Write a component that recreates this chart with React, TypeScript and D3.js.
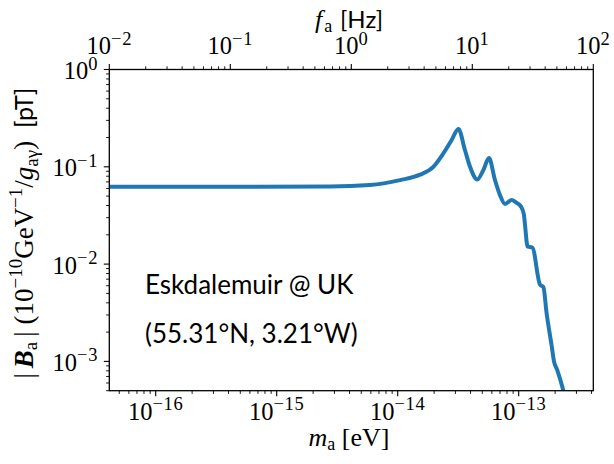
import React from "react";
import * as d3 from "d3";

// Axion-induced magnetic field spectrum at the Eskdalemuir station
const massEV = [
  4.136e-17, 6.0e-16, 2.76e-15, 5.9e-15, 1.045e-14, 1.53e-14, 1.97e-14, 2.38e-14,
  2.8e-14, 3.17e-14, 3.6e-14, 3.96e-14, 4.55e-14, 5.1e-14, 5.68e-14, 6.37e-14,
  7.01e-14, 7.7e-14, 8.75e-14, 9.5e-14, 1.045e-13, 1.1e-13, 1.187e-13, 1.296e-13,
  1.5e-13, 1.6e-13, 1.7e-13, 1.875e-13, 1.957e-13, 2.08e-13, 2.34e-13, 2.5e-13,
];
const fieldPT = [
  0.0625, 0.0625, 0.0628, 0.065, 0.073, 0.083, 0.1, 0.137,
  0.19, 0.245, 0.148, 0.1, 0.074, 0.0925, 0.123, 0.073,
  0.051, 0.0415, 0.0456, 0.043, 0.039, 0.033, 0.0151, 0.0148,
  0.00614, 0.0058, 0.00314, 0.00143, 0.001, 0.00082, 0.0005, 0.00035,
];

const massTickExps = [-16, -15, -14, -13];
const freqTickExps = [-2, -1, 0, 1, 2];
const fieldTickExps = [-3, -2, -1, 0];

const stationName = "Eskdalemuir @ UK";
const stationCoords = "(55.31°N, 3.21°W)";

const W = 614;
const H = 464;
const left = 109.3;
const right = 593.3;
const top = 69.5;
const bottom = 390.7;

const SERIF = "'Liberation Serif', 'Times New Roman', serif";
const SANS = "Lato, 'DejaVu Sans', sans-serif";
const BLUE = "#1f77b4";

function minorTicks(lo: number, hi: number): number[] {
  const out: number[] = [];
  for (let e = Math.floor(Math.log10(lo)) - 1; e <= Math.ceil(Math.log10(hi)); e++) {
    for (let k = 2; k <= 9; k++) {
      const v = k * Math.pow(10, e);
      if (v >= lo * 0.9999 && v <= hi * 1.0001) out.push(v);
    }
  }
  return out;
}

function Pow10({ e, x, y, anchor }: { e: number; x: number; y: number; anchor: string }) {
  const s = e < 0 ? "\u2212" + Math.abs(e) : String(e);
  return (
    <text x={x} y={y} textAnchor={anchor} fontFamily={SERIF} fontSize={24.5} fill="#000">
      10
      <tspan fontSize={18.5} dy={-9.5} letterSpacing={0.6}>{s}</tspan>
    </text>
  );
}

export default function App() {
  const x = d3.scaleLog().domain([4.1357e-17, 4.1357e-13]).range([left, right]);
  const xTop = d3.scaleLog().domain([1e-2, 1e2]).range([left, right]);
  const y = d3.scaleLog().domain([5e-4, 1]).range([bottom, top]);

  const pts: [number, number][] = massEV.map((m, i) => [x(m), y(fieldPT[i])]);
  const line = d3.line().curve(d3.curveMonotoneX)(pts) || "";

  const majorLen = 5.5;
  const minorLen = 3.2;

  const xMinor = minorTicks(4.1357e-17, 4.1357e-13);
  const xTopMinor = minorTicks(1e-2, 1e2);
  const yMinor = minorTicks(5e-4, 1);

  return (
    <svg
      width={W}
      height={H}
      style={{ position: "absolute", left: 0, top: 0, background: "#fff" }}
    >
      <defs>
        <clipPath id="plotArea">
          <rect x={left} y={top} width={right - left} height={bottom - top} />
        </clipPath>
      </defs>
      <rect x={0} y={0} width={W} height={H} fill="#fff" />

      <path
        d={line}
        fill="none"
        stroke={BLUE}
        strokeWidth={4}
        strokeLinejoin="round"
        strokeLinecap="round"
        clipPath="url(#plotArea)"
      />

      {/* frame */}
      <rect
        x={left}
        y={top}
        width={right - left}
        height={bottom - top}
        fill="none"
        stroke="#000"
        strokeWidth={1.3}
      />

      {/* bottom axis: axion mass */}
      <g stroke="#000">
        {massTickExps.map((e) => {
          const px = x(Math.pow(10, e));
          return <line key={"bx" + e} x1={px} x2={px} y1={bottom} y2={bottom + majorLen} strokeWidth={1.1} />;
        })}
        {xMinor.map((v, i) => {
          const px = x(v);
          return <line key={"bm" + i} x1={px} x2={px} y1={bottom} y2={bottom + minorLen} strokeWidth={0.9} />;
        })}
      </g>
      {massTickExps.map((e) => (
        <Pow10 key={"bl" + e} e={e} x={x(Math.pow(10, e))} y={bottom + 29} anchor="middle" />
      ))}

      {/* top axis: frequency */}
      <g stroke="#000">
        {freqTickExps.map((e) => {
          const px = xTop(Math.pow(10, e));
          return <line key={"tx" + e} x1={px} x2={px} y1={top} y2={top - majorLen} strokeWidth={1.1} />;
        })}
        {xTopMinor.map((v, i) => {
          const px = xTop(v);
          return <line key={"tm" + i} x1={px} x2={px} y1={top} y2={top - minorLen} strokeWidth={0.9} />;
        })}
      </g>
      {freqTickExps.map((e) => (
        <Pow10 key={"tl" + e} e={e} x={xTop(Math.pow(10, e))} y={top - 15.5} anchor="middle" />
      ))}

      {/* left axis: field amplitude */}
      <g stroke="#000">
        {fieldTickExps.map((e) => {
          const py = y(Math.pow(10, e));
          return <line key={"ly" + e} x1={left} x2={left - majorLen} y1={py} y2={py} strokeWidth={1.1} />;
        })}
        {yMinor.map((v, i) => {
          const py = y(v);
          return <line key={"lm" + i} x1={left} x2={left - minorLen} y1={py} y2={py} strokeWidth={0.9} />;
        })}
      </g>
      {fieldTickExps.map((e) => (
        <Pow10 key={"ll" + e} e={e} x={98} y={y(Math.pow(10, e)) + 9.5} anchor="end" />
      ))}

      {/* axis titles */}
      <text x={349} y={445.5} textAnchor="middle" fontFamily={SERIF} fontSize={26}>
        <tspan fontStyle="italic">m</tspan>
        <tspan fontSize={18} dy={4}>a</tspan>
        <tspan dy={-4}>{"\u00a0[eV]"}</tspan>
      </text>

      <text x={315} y={28} fontFamily={SERIF} fontSize={26}>
        <tspan fontStyle="italic">f</tspan>
        <tspan fontSize={18} dy={4} dx={2}>a</tspan>
      </text>
      <text x={340} y={27.5} fontFamily={SANS} fontSize={24}>
        [Hz]
      </text>

      <text
        transform={`translate(33, ${(top + bottom) / 2 + 3}) rotate(-90)`}
        textAnchor="middle"
        fontFamily={SERIF}
        fontSize={27}
      >
        <tspan>|</tspan>
        <tspan fontWeight="bold" fontStyle="italic" dx={5}>B</tspan>
        <tspan fontSize={19} dy={4}>a</tspan>
        <tspan dy={-4} dx={5}>| (10</tspan>
        <tspan fontSize={19} dy={-11}>{"\u221210"}</tspan>
        <tspan dy={11}>GeV</tspan>
        <tspan fontSize={19} dy={-11}>{"\u22121"}</tspan>
        <tspan dy={11}>/</tspan>
        <tspan fontStyle="italic">g</tspan>
        <tspan fontSize={19} dy={5}>{"a\u03b3"}</tspan>
        <tspan dy={-5}>)</tspan>
        <tspan fontFamily={SANS} fontSize={25}>{"\u00a0\u00a0[pT]"}</tspan>
      </text>

      {/* station annotation */}
      <text x={145} y={294.3} fontFamily={SANS} fontSize={26} fill="#000">
        {stationName}
      </text>
      <text x={145} y={343.3} fontFamily={SANS} fontSize={26} fill="#000">
        {stationCoords}
      </text>
    </svg>
  );
}
